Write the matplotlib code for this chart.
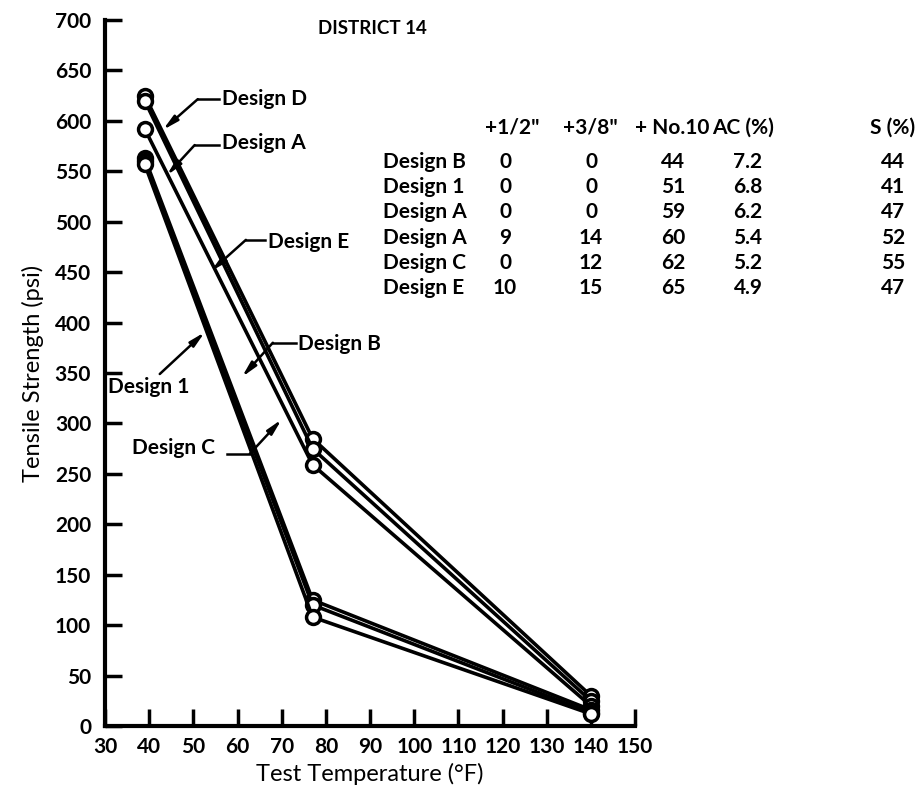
import matplotlib
matplotlib.use("Agg")
import matplotlib.pyplot as plt

# ---- data -------------------------------------------------------------
temps = [39, 77, 140]

design_d = [625, 285, 30]
design_a = [620, 275, 25]
design_e = [592, 259, 20]
design_1 = [563, 125, 16]
design_b = [560, 120, 13]
design_c = [557, 108, 12]

table_rows = ["Design B", "Design 1", "Design A", "Design A", "Design C", "Design E"]
table_cols = ['+1/2"', '+3/8"', "+ No.10", "AC (%)", "S (%)"]
half_inch = ["0", "0", "0", "9", "0", "10"]
three_eighths = ["0", "0", "0", "14", "12", "15"]
no10 = ["44", "51", "59", "60", "62", "65"]
ac_pct = ["7.2", "6.8", "6.2", "5.4", "5.2", "4.9"]
s_pct = ["44", "41", "47", "52", "55", "47"]

# ---- figure -----------------------------------------------------------
W, H = 923, 796
plt.rcParams["font.family"] = ["Lato", "DejaVu Sans"]
fig = plt.figure(figsize=(W / 100, H / 100), dpi=100)
fig.patch.set_facecolor("white")

TXT = dict(fontsize=15, fontweight="bold")


def px(x, y):
    return x / W, 1 - y / H


ax = fig.add_axes([105 / W, 1 - 726 / H, 530 / W, 706 / H])

for vals in (design_d, design_a, design_e, design_1, design_b, design_c):
    ax.plot(temps, vals, color="black", lw=2.6, marker="o", ms=10,
            mfc="white", mec="black", mew=2.5, clip_on=False, zorder=3)

ax.set_xlim(30, 150)
ax.set_ylim(0, 700)
ax.set_xticks(range(30, 151, 10))
ax.set_yticks(range(0, 701, 50))
for s in ("top", "right"):
    ax.spines[s].set_visible(False)
for s in ("left", "bottom"):
    ax.spines[s].set_linewidth(3)
ax.tick_params(direction="in", length=12, width=2.5, labelsize=15, pad=8)
ax.tick_params(axis="y", pad=10)
for lab in ax.get_xticklabels() + ax.get_yticklabels():
    lab.set_fontweight("bold")
ax.set_xlabel("Test Temperature (°F)", fontsize=17, labelpad=4)
ax.set_ylabel("Tensile Strength (psi)", fontsize=17, labelpad=8)


# ---- callouts ---------------------------------------------------------
def callout(label, tip, elbow, end, text_xy, ha):
    if end is not None:
        ax.plot([elbow[0], end[0]], [elbow[1], end[1]], color="black",
                lw=1.8, clip_on=False, zorder=4)
    ax.annotate("", xy=tip, xytext=elbow,
                arrowprops=dict(arrowstyle="-|>,head_length=0.9,head_width=0.2",
                                color="black", lw=1.8, shrinkA=0, shrinkB=0),
                zorder=4)
    ax.text(text_xy[0], text_xy[1], label, ha=ha, va="center", zorder=5, **TXT)


callout("Design D", (43.1, 591), (51.0, 621.5), (55.8, 621.5), (56.4, 621.5), "left")
callout("Design A", (44.0, 546), (50.3, 576), (55.8, 576), (56.4, 578), "left")
callout("Design E", (54.0, 451), (61.9, 482), (66.2, 482), (66.8, 480), "left")
callout("Design B", (61.0, 346), (68.0, 380), (73.2, 380), (73.8, 379), "left")
callout("Design 1", (52.6, 390.5), (42.4, 349), None, (30.7, 336), "left")
callout("Design C", (70.0, 304), (62.8, 270), (57.6, 270), (54.9, 276), "right")

# ---- title and table --------------------------------------------------
fig.text(*px(372, 28), "DISTRICT 14", ha="center", va="center",
         fontsize=13.5, fontweight="bold")

header_y = 128
row_y0, row_dy = 162, 25.2
col_x = [512, 590, 672, 743, 893]
value_x = [505, 591, 673, 748, 893]

for cx, name in zip(col_x, table_cols):
    fig.text(*px(cx, header_y), name, ha="center", va="center", **TXT)

columns = (half_inch, three_eighths, no10, ac_pct, s_pct)
for i, name in enumerate(table_rows):
    y = row_y0 + i * row_dy
    fig.text(*px(383, y), name, ha="left", va="center", **TXT)
    for cx, col in zip(value_x, columns):
        fig.text(*px(cx, y), col[i], ha="center", va="center", **TXT)

fig.savefig("out.png", dpi=100, facecolor="white")
